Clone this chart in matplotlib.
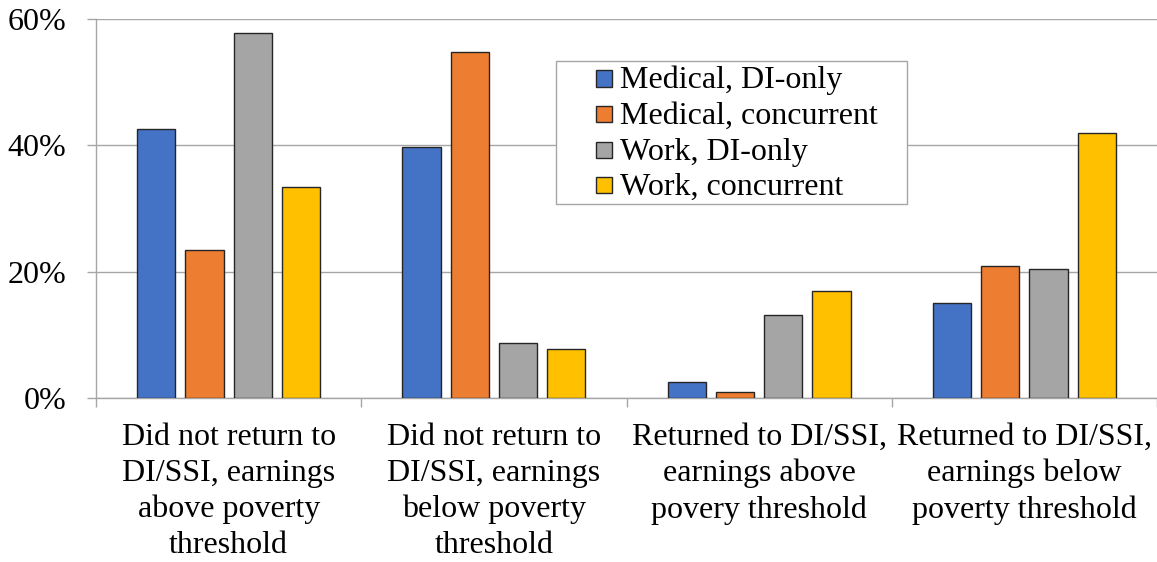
import matplotlib
matplotlib.use("Agg")
import matplotlib.pyplot as plt
import numpy as np
from matplotlib.ticker import FuncFormatter, FixedLocator
from matplotlib.patches import Rectangle

plt.rcParams['font.family'] = ['Liberation Serif', 'DejaVu Serif']

categories = [
    "Did not return to\nDI/SSI, earnings\nabove poverty\nthreshold",
    "Did not return to\nDI/SSI, earnings\nbelow poverty\nthreshold",
    "Returned to DI/SSI,\nearnings above\npovery threshold",
    "Returned to DI/SSI,\nearnings below\npoverty threshold",
]
series_names = ["Medical, DI-only", "Medical, concurrent", "Work, DI-only", "Work, concurrent"]
medical_di_only = [42.6, 39.8, 2.6, 15.0]
medical_concurrent = [23.4, 54.8, 0.9, 20.9]
work_di_only = [57.8, 8.7, 13.1, 20.5]
work_concurrent = [33.4, 7.7, 16.9, 42.0]
series_values = [medical_di_only, medical_concurrent, work_di_only, work_concurrent]
colors = ["#4472C4", "#ED7D31", "#A5A5A5", "#FFC000"]
y_ticks = [0, 20, 40, 60]

W, H = 1157, 562
fig = plt.figure(figsize=(W / 100, H / 100), dpi=100)
ax = fig.add_axes([96 / W, 1 - 398 / H, 1 - 96 / W, (398 - 19) / H])

x = np.arange(len(categories))
step = 0.182
width = 0.1445
for i, (name, vals) in enumerate(zip(series_names, series_values)):
    ax.bar(x + (i - 1.5) * step, vals, width=width, color=colors[i],
           edgecolor="#262626", linewidth=1.0, label=name, zorder=3)

ax.set_xlim(-0.5, len(categories) - 0.5)
ax.set_ylim(0, 60)
ax.set_yticks(y_ticks)
ax.yaxis.set_major_formatter(FuncFormatter(lambda v, p: f"{int(v)}%"))
ax.grid(axis='y', color="#A6A6A6", linewidth=1.0, zorder=0)

ax.xaxis.set_major_locator(FixedLocator(np.arange(-0.5, len(categories), 1.0)))
ax.xaxis.set_major_formatter(FuncFormatter(lambda v, p: ""))
ax.xaxis.set_minor_locator(FixedLocator(x))
ax.set_xticklabels(categories, minor=True)
ax.tick_params(axis='x', which='major', length=6.5, color="#A6A6A6", width=1.0, direction='out')
ax.tick_params(axis='x', which='minor', length=0, pad=18, labelsize=23)
ax.tick_params(axis='y', length=6.5, color="#A6A6A6", width=1.0, pad=15, labelsize=23)
for lbl in ax.get_xticklabels(minor=True):
    lbl.set_linespacing(1.31)

for s in ['top', 'right']:
    ax.spines[s].set_visible(False)
for s in ['left', 'bottom']:
    ax.spines[s].set_color("#A6A6A6")
    ax.spines[s].set_linewidth(1.0)

# Legend drawn in figure pixel coordinates (frame, square keys, labels)
def fx(px):
    return px / W

def fy(py):
    return 1 - py / H

fig.patches.append(Rectangle((fx(556), fy(204)), fx(907) - fx(556), fy(61) - fy(204),
                             transform=fig.transFigure, facecolor='white',
                             edgecolor="#A6A6A6", linewidth=1.0, zorder=5))
baselines = [88.3, 124.0, 159.5, 195.0]
for i, name in enumerate(series_names):
    b = baselines[i]
    fig.patches.append(Rectangle((fx(596), fy(b - 1.8)), fx(612) - fx(596), fy(b - 18) - fy(b - 1.8),
                                 transform=fig.transFigure, facecolor=colors[i],
                                 edgecolor="#262626", linewidth=1.0, zorder=6))
    fig.text(fx(620), fy(b), name, fontsize=23, ha='left', va='baseline', zorder=7)

fig.savefig("out.png", dpi=100)
